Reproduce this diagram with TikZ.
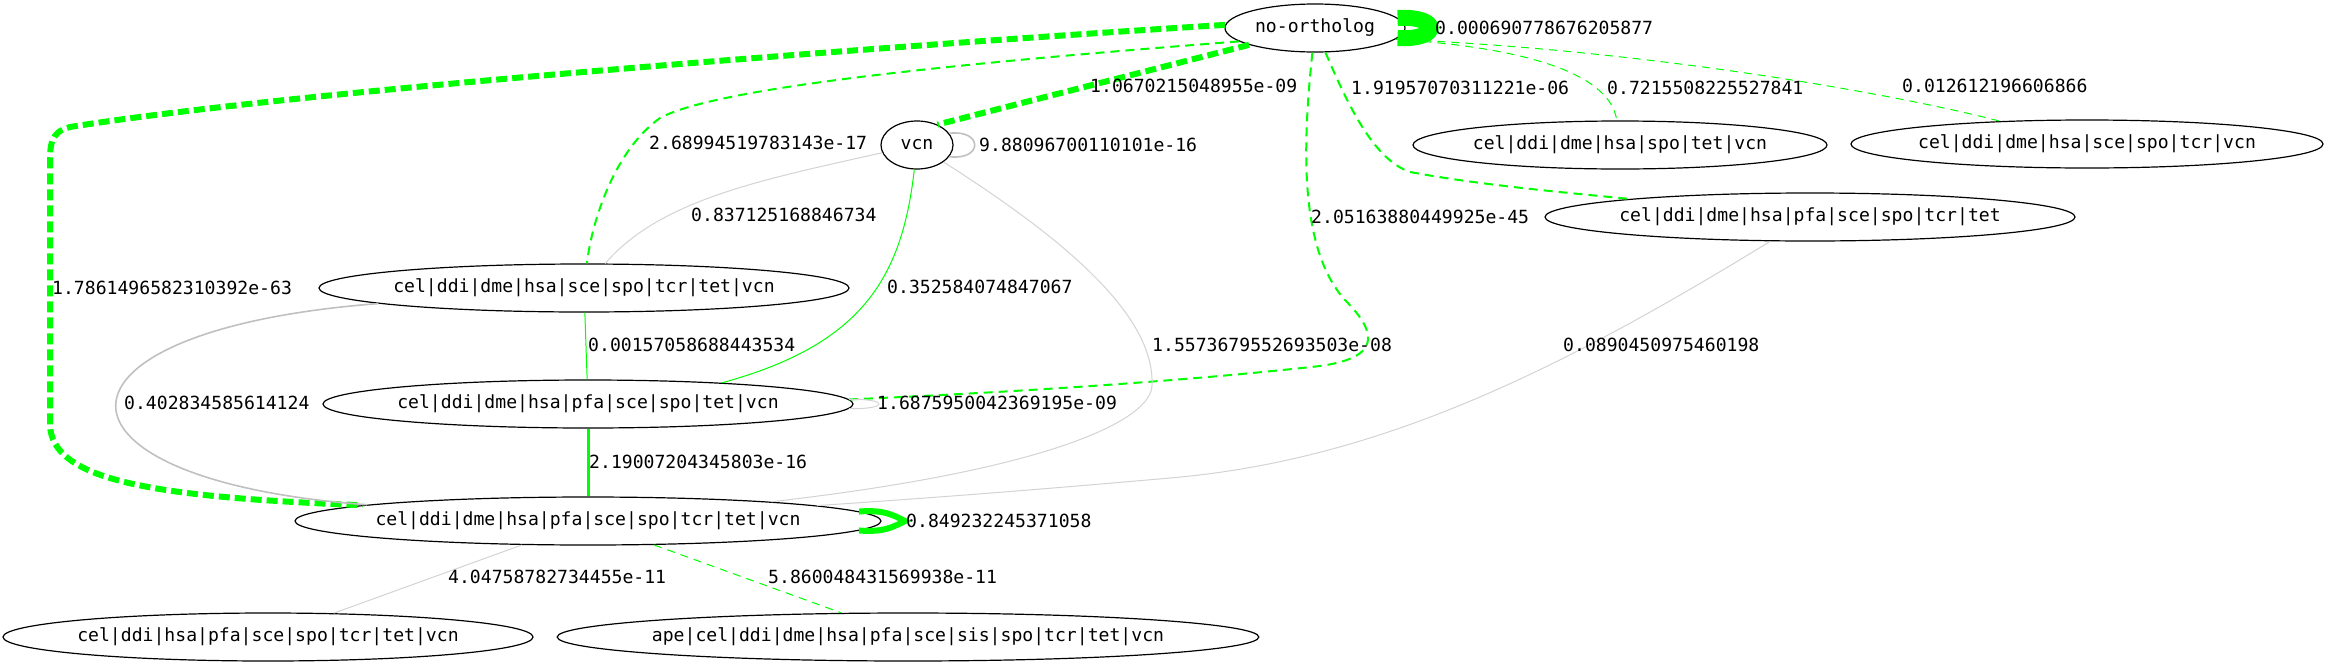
\documentclass[tikz,border=0pt]{standalone}
\usepackage{fontspec}
\setmonofont{DejaVu Sans Mono}
\usetikzlibrary{shapes.geometric}
\definecolor{gvgreen}{RGB}{0,255,0}
\definecolor{gvgray}{RGB}{192,192,192}
\definecolor{gvlight}{RGB}{211,211,211}

\begin{document}
\begin{tikzpicture}[x=1pt,y=-1pt]
    \tikzset{base/.style = {ellipse, draw=black, line width=1.2pt,
                           minimum height=48pt, inner xsep=-6pt, inner ysep=0pt,
                           font=\ttfamily\fontsize{18.1pt}{20pt}\selectfont}}
    \tikzset{weight/.style = {anchor=west, inner sep=0pt,
                             font=\ttfamily\fontsize{18.1pt}{20pt}\selectfont}}
    \tikzset{fatdash/.style = {gvgreen, line width=6pt, dash pattern=on 11pt off 5pt}}
    \tikzset{middash/.style = {gvgreen, line width=2pt, dash pattern=on 9pt off 6pt}}
    \tikzset{thindash/.style = {gvgreen, line width=1pt, dash pattern=on 8pt off 6pt}}
    \tikzset{thingreen/.style = {gvgreen, line width=1pt}}
    \tikzset{thingray/.style = {gvlight, line width=1pt}}
    \tikzset{midgray/.style = {gvgray, line width=1.6pt}}

    \useasboundingbox (0,0) rectangle (2328,667);

    \node (noorth) [base, minimum width=180pt] at (1315,28) {no-ortholog};
    \node (vcn) [base, minimum width=72pt] at (917,145) {vcn};
    \node (spotet) [base, minimum width=414pt] at (1620,145) {cel|ddi|dme|hsa|spo|tet|vcn};
    \node (scevcn) [base, minimum width=472pt] at (2087,144) {cel|ddi|dme|hsa|sce|spo|tcr|vcn};
    \node (pfatet) [base, minimum width=530pt] at (1810,217) {cel|ddi|dme|hsa|pfa|sce|spo|tcr|tet};
    \node (scetet) [base, minimum width=530pt] at (584,288) {cel|ddi|dme|hsa|sce|spo|tcr|tet|vcn};
    \node (pfavcn) [base, minimum width=530pt] at (588,404) {cel|ddi|dme|hsa|pfa|sce|spo|tet|vcn};
    \node (allten) [base, minimum width=586pt] at (588,521) {cel|ddi|dme|hsa|pfa|sce|spo|tcr|tet|vcn};
    \node (nodme) [base, minimum width=530pt] at (268,637) {cel|ddi|hsa|pfa|sce|spo|tcr|tet|vcn};
    \node (apesis) [base, minimum width=700pt, inner xsep=-8pt] at (908,637) {ape|cel|ddi|dme|hsa|pfa|sce|sis|spo|tcr|tet|vcn};

    \draw[fatdash] (noorth.178) .. controls (900,45) and (300,90) .. (70,127)
        .. controls (50,132) and (50,145) .. (50,165) -- (50,425)
        .. controls (52,480) and (150,497) .. (allten.176);
    \draw[middash] (noorth.190) .. controls (1000,60) and (720,85) .. (660,118)
        .. controls (615,150) and (592,220) .. (scetet);
    \draw[fatdash] (noorth) -- (vcn.45);
    \draw[middash] (noorth) .. controls (1302,150) and (1300,250) .. (1345,300)
        .. controls (1380,335) and (1378,358) .. (1320,366)
        .. controls (1150,385) and (950,395) .. (pfavcn.1.3);
    \draw[middash] (noorth) .. controls (1350,110) and (1375,160) .. (1410,172)
        .. controls (1480,185) and (1560,192) .. (pfatet);
    \draw[thindash] (noorth.-8) .. controls (1560,50) and (1612,85) .. (spotet);
    \draw[thindash] (noorth.-8) .. controls (1650,50) and (1900,95) .. (scevcn);
    \draw[gvgreen, line width=16pt] (noorth.7) .. controls +(44,-2) and +(44,2) .. (noorth.-7);

    \draw[midgray] (vcn.20) .. controls +(34,-4) and +(34,4) .. (vcn.-20);
    \draw[thingray] (vcn) .. controls (760,180) and (660,200) .. (scetet);
    \draw[thingreen] (vcn) .. controls (902,280) and (860,345) .. (pfavcn.9);
    \draw[thingray] (vcn) .. controls (1050,230) and (1155,310) .. (1152,385)
        .. controls (1152,420) and (1050,470) .. (allten.6);

    \draw[thingreen] (scetet) -- (pfavcn);
    \draw[midgray] (scetet) .. controls (30,330) and (30,480) .. (allten);
    \draw[thingray] (pfavcn.1.5) .. controls +(40,-1) and +(40,1) .. (pfavcn.-1.5);
    \draw[gvgreen, line width=3pt] (pfavcn) -- (allten);
    \draw[thingray] (pfatet) .. controls (1560,370) and (1380,460) .. (1170,478)
        .. controls (1000,493) and (900,500) .. (allten);
    \draw[gvgreen, line width=6pt] (allten.2) .. controls +(25,-2) and +(-12,-6) .. (905,521)
        .. controls +(-12,6) and +(25,2) .. (allten.-2);
    \draw[thingray] (allten) -- (nodme);
    \draw[thindash] (allten) -- (apesis);

    \node (wloop) [weight] at (1435,28) {0.000690778676205877};
    \node (wvcn) [weight] at (1090,86) {1.0670215048955e-09};
    \node (wpfatet) [weight] at (1351,88) {1.91957070311221e-06};
    \node (wspotet) [weight] at (1607,88) {0.7215508225527841};
    \node (wscevcn) [weight] at (1902,86) {0.012612196606866};
    \node (wvcnloop) [weight] at (979,145) {9.88096700110101e-16};
    \node (wscetet) [weight] at (649,143) {2.68994519783143e-17};
    \node (wvcnsce) [weight] at (691,215) {0.837125168846734};
    \node (wpfavcn) [weight] at (1311,217) {2.05163880449925e-45};
    \node (wallten) [weight] at (52,288) {1.7861496582310392e-63};
    \node (wvcnpfa) [weight] at (887,287) {0.352584074847067};
    \node (wscepfa) [weight] at (588,345) {0.00157058688443534};
    \node (wvcnall) [weight] at (1152,345) {1.5573679552693503e-08};
    \node (wtetall) [weight] at (1563,345) {0.0890450975460198};
    \node (wsceall) [weight] at (124,403) {0.402834585614124};
    \node (wpfaloop) [weight] at (877,403) {1.6875950042369195e-09};
    \node (wpfaall) [weight] at (589,462) {2.19007204345803e-16};
    \node (wallloop) [weight] at (906,521) {0.849232245371058};
    \node (wnodme) [weight] at (448,577) {4.04758782734455e-11};
    \node (wapesis) [weight] at (768,577) {5.860048431569938e-11};
\end{tikzpicture}
\end{document}
